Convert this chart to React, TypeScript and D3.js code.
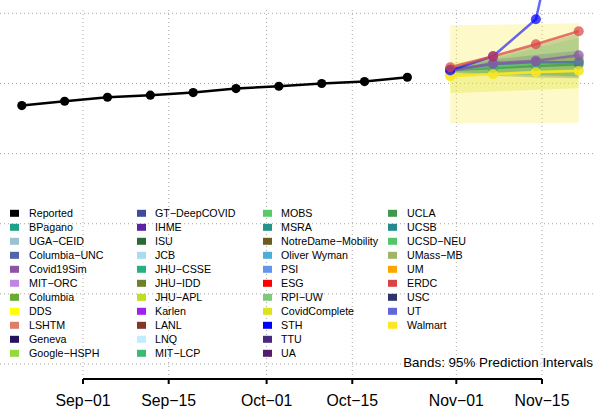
import React from "react";
import * as d3 from "d3";

const W = 595;
const H = 410;

// Reported weekly series
const reportedDates = [
  "2020-08-22", "2020-08-29", "2020-09-05", "2020-09-12", "2020-09-19",
  "2020-09-26", "2020-10-03", "2020-10-10", "2020-10-17", "2020-10-24",
];
const reportedValues = [5685, 5746, 5803, 5832, 5870, 5927, 5960, 5999, 6027, 6088];

// Forecast targets
const forecastDates = ["2020-10-31", "2020-11-07", "2020-11-14", "2020-11-21"];

const medWalmart = [6103, 6131, 6160, 6178];
const loWalmart = [5433, 5435, 5437, 5440];
const hiWalmart = [6829, 6838, 6848, 6858];

const medCovidComplete = [6108, 6135, 6162, 6185];
const loCovidComplete = [5860, 5885, 5910, 5932];
const hiCovidComplete = [6290, 6350, 6400, 6450];

const medUMass = [6200, 6285, 6318, 6345];
const loUMass = [6150, 6110, 6085, 6074];
const hiUMass = [6217, 6373, 6544, 6715];

const medUCSD = [6190, 6240, 6280, 6320];
const loUCSD = [6165, 6135, 6115, 6100];
const hiUCSD = [6215, 6350, 6500, 6650];

const medUCLA = [6190, 6220, 6250, 6270];
const loUCLA = [6160, 6140, 6120, 6100];
const hiUCLA = [6215, 6290, 6340, 6380];

const medColumbiaUNC = [6195, 6275, 6305, 6302];
const loColumbiaUNC = [6190, 6240, 6270, 6290];
const hiColumbiaUNC = [6210, 6340, 6410, 6470];

const medCovid19Sim = [6175, 6290, 6325, 6402];
const medERDC = [6231, 6387, 6558, 6744];
const medSTH = [6188, 6387, 6915, 9600];

// Axis
const axisTicks = ["2020-09-01", "2020-09-15", "2020-10-01", "2020-10-15", "2020-11-01", "2020-11-15"];
const yGrid = [2000, 3000, 4000, 5000, 6000, 7000];

// Legend
const legendNames = [
  "Reported", "BPagano", "UGA−CEID", "Columbia−UNC", "Covid19Sim", "MIT−ORC", "Columbia", "DDS", "LSHTM", "Geneva", "Google−HSPH",
  "GT−DeepCOVID", "IHME", "ISU", "JCB", "JHU−CSSE", "JHU−IDD", "JHU−APL", "Karlen", "LANL", "LNQ", "MIT−LCP",
  "MOBS", "MSRA", "NotreDame−Mobility", "Oliver Wyman", "PSI", "ESG", "RPI−UW", "CovidComplete", "STH", "TTU", "UA",
  "UCLA", "UCSB", "UCSD−NEU", "UMass−MB", "UM", "ERDC", "USC", "UT", "Walmart",
];
const legendColors = [
  "#000000", "#1fa187", "#9ac2cf", "#5165a8", "#8a55a5", "#c084e6", "#6aaa30", "#ffff00", "#db7f68", "#23125d", "#95d840",
  "#3d4b9c", "#5d24a0", "#2a6a36", "#a8dcf0", "#24b285", "#6d7f2b", "#bede22", "#a020f0", "#813728", "#bfeefe", "#3bba75",
  "#55cc66", "#21958b", "#6e5a1e", "#4aaed8", "#6495ed", "#ff0000", "#7ec97a", "#dce319", "#0000ff", "#4a2a7f", "#551c6b",
  "#3e9a4a", "#238a8d", "#55c667", "#a4b36a", "#ffa500", "#d94545", "#2c3370", "#6366d8", "#fde725",
];
const legendRows = 11;

const colorOf = (name: string) => legendColors[legendNames.indexOf(name)];

const bandModels = [
  { name: "Walmart", lo: loWalmart, hi: hiWalmart, op: 0.25 },
  { name: "CovidComplete", lo: loCovidComplete, hi: hiCovidComplete, op: 0.28 },
  { name: "UMass−MB", lo: loUMass, hi: hiUMass, op: 0.55 },
  { name: "UCSD−NEU", lo: loUCSD, hi: hiUCSD, op: 0.2 },
  { name: "UCLA", lo: loUCLA, hi: hiUCLA, op: 0.25 },
  { name: "Columbia−UNC", lo: loColumbiaUNC, hi: hiColumbiaUNC, op: 0.22 },
];
const lineModels = [
  { name: "CovidComplete", med: medCovidComplete, op: 0.75 },
  { name: "UCLA", med: medUCLA, op: 0.75 },
  { name: "UCSD−NEU", med: medUCSD, op: 0.6 },
  { name: "UMass−MB", med: medUMass, op: 0.75 },
  { name: "Columbia−UNC", med: medColumbiaUNC, op: 0.75 },
  { name: "Covid19Sim", med: medCovid19Sim, op: 0.75 },
  { name: "Walmart", med: medWalmart, op: 0.8 },
  { name: "STH", med: medSTH, op: 0.6 },
  { name: "ERDC", med: medERDC, op: 0.75 },
];

const FONT = "'Liberation Sans', Arial, Helvetica, sans-serif";

export default function App() {
  const parse = d3.utcParse("%Y-%m-%d");
  const x = d3.scaleUtc().domain([parse("2020-09-01")!, parse("2020-11-15")!]).range([83, 542]);
  const y = d3.scaleLinear().domain([2000, 7000]).range([364, 13.3]);
  const fmt = d3.utcFormat("%b−%d");

  const fDates = forecastDates.map((d) => parse(d)!);
  const rDates = reportedDates.map((d) => parse(d)!);
  const ticks = axisTicks.map((d) => parse(d)!);

  const line = d3
    .line<[Date, number]>()
    .x((d) => x(d[0]))
    .y((d) => y(d[1]));
  const area = d3
    .area<[Date, number, number]>()
    .x((d) => x(d[0]))
    .y0((d) => y(d[1]))
    .y1((d) => y(d[2]));

  const reported: [Date, number][] = rDates.map((d, i) => [d, reportedValues[i]]);
  const axisY = 379;

  return (
    <svg
      width={W}
      height={H}
      style={{ position: "absolute", left: 0, top: 0, background: "#fff" }}
      fontFamily={FONT}
    >
      <defs>
        <clipPath id="plotclip">
          <rect x={0} y={0} width={W} height={376} />
        </clipPath>
      </defs>
      <rect x={0} y={0} width={W} height={H} fill="#fff" />
      {/* grid */}
      {yGrid.map((v) => (
        <line key={"h" + v} x1={0} x2={W} y1={y(v)} y2={y(v)} stroke="#a8a8a8" strokeWidth={1} strokeDasharray="1 3" />
      ))}
      {ticks.map((t, i) => (
        <line key={"v" + i} x1={x(t)} x2={x(t)} y1={10} y2={376} stroke="#a8a8a8" strokeWidth={1} strokeDasharray="1 3" />
      ))}

      {/* legend */}
      {legendNames.map((n, i) => {
        const col = Math.floor(i / legendRows);
        const row = i % legendRows;
        const sx = [10, 137, 263, 388][col];
        const tx = [29, 155, 281, 407][col];
        const cy = 213.3 + row * 14;
        return (
          <g key={n}>
            <rect x={sx} y={cy - 3.5} width={9} height={7} fill={legendColors[i]} />
            <text x={tx} y={cy + 3.9} fontSize={10.7} fill="#000">
              {n}
            </text>
          </g>
        );
      })}

      <g clipPath="url(#plotclip)">
        {/* bands */}
        {bandModels.map((m) => {
          const data: [Date, number, number][] = fDates.map((d, i) => [d, m.lo[i], m.hi[i]]);
          return <path key={"b" + m.name} d={area(data) || ""} fill={colorOf(m.name)} fillOpacity={m.op} stroke="none" />;
        })}
        {/* lines */}
        {lineModels.map((m) => {
          const data: [Date, number][] = fDates.map((d, i) => [d, m.med[i]]);
          return (
            <path
              key={"l" + m.name}
              d={line(data) || ""}
              fill="none"
              stroke={colorOf(m.name)}
              strokeOpacity={m.op}
              strokeWidth={2.5}
            />
          );
        })}
        {/* points */}
        {lineModels.map((m) =>
          fDates.map((d, i) => (
            <circle
              key={"p" + m.name + i}
              cx={x(d)}
              cy={y(m.med[i])}
              r={5}
              fill={colorOf(m.name)}
              fillOpacity={0.72}
            />
          ))
        )}
      </g>

      {/* reported */}
      <path d={line(reported) || ""} fill="none" stroke="#000" strokeWidth={2.5} />
      {reported.map((d, i) => (
        <circle key={"r" + i} cx={x(d[0])} cy={y(d[1])} r={4.6} fill="#000" />
      ))}

      <text x={593} y={366.5} fontSize={13.4} textAnchor="end" fill="#000">
        Bands: 95% Prediction Intervals
      </text>

      {/* x axis */}
      <line x1={x(ticks[0])} x2={x(ticks[ticks.length - 1])} y1={axisY} y2={axisY} stroke="#000" strokeWidth={2} />
      {ticks.map((t, i) => (
        <g key={"t" + i}>
          <line x1={x(t)} x2={x(t)} y1={axisY} y2={axisY + 5} stroke="#000" strokeWidth={2} />
          <text x={x(t)} y={405.5} fontSize={15.8} textAnchor="middle" fill="#000">
            {fmt(t)}
          </text>
        </g>
      ))}
    </svg>
  );
}
